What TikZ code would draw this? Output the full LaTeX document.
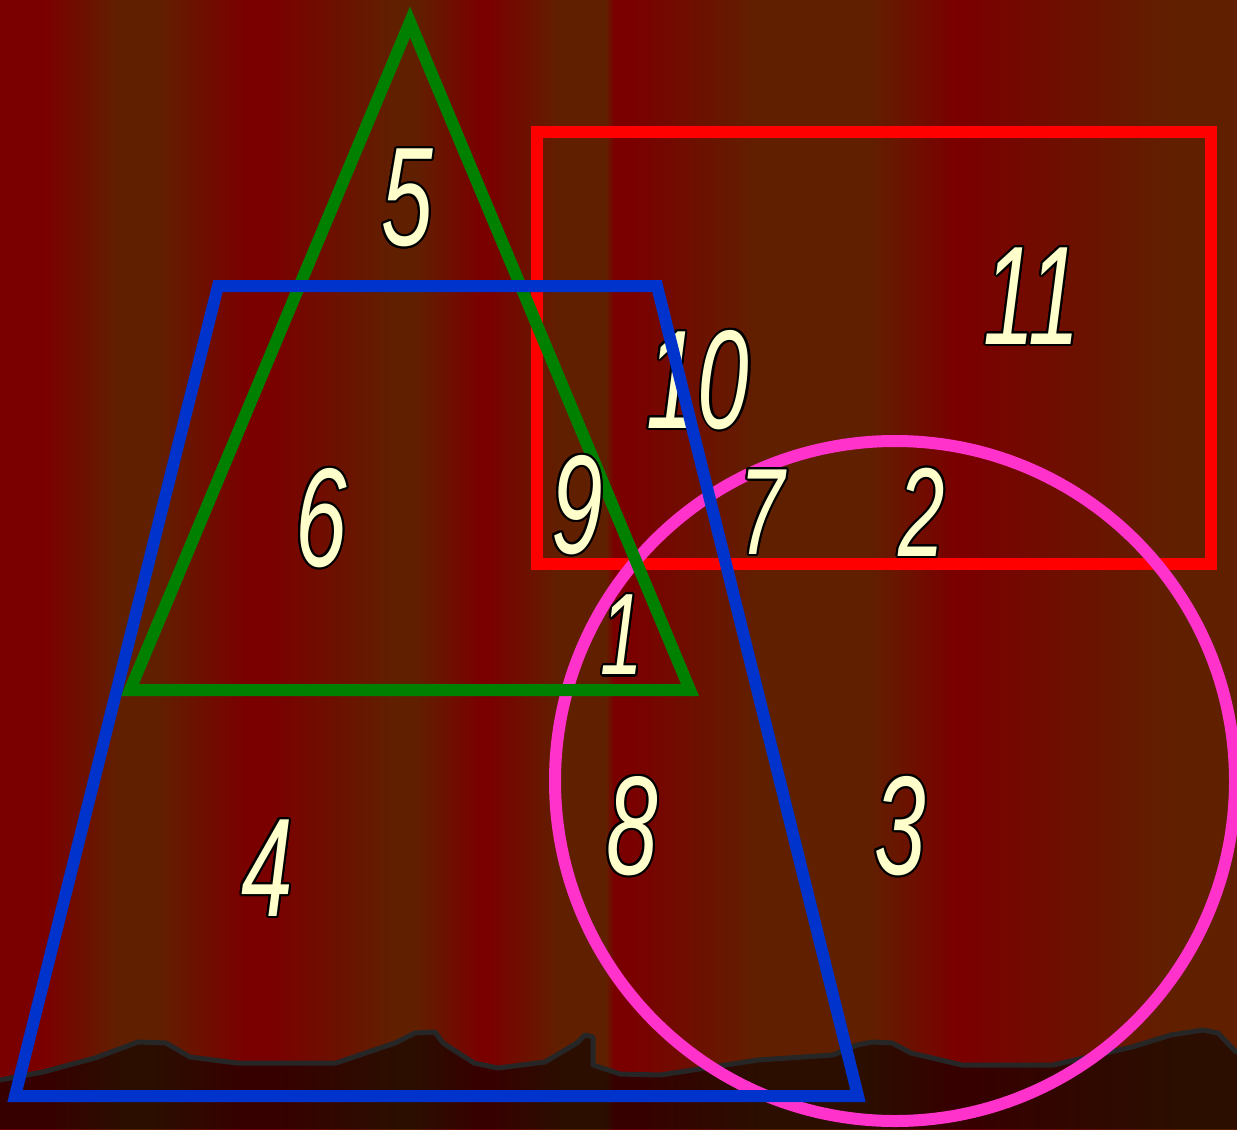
\documentclass[tikz,border=0pt]{standalone}
\usepackage{fontspec}
\usepackage{tikz}
\usetikzlibrary{positioning}
\newfontfamily\numfont[FakeStretch=0.66]{Liberation Sans}
\definecolor{bgred}{RGB}{122,0,0}
\definecolor{bgbrown}{RGB}{96,32,0}
\definecolor{numyellow}{RGB}{255,255,204}
\definecolor{setred}{RGB}{255,0,0}
\definecolor{setgreen}{RGB}{0,128,0}
\definecolor{setblue}{RGB}{0,51,204}
\definecolor{setpink}{RGB}{255,51,204}
\definecolor{ridge}{RGB}{38,38,38}
% outlined region number: [size] name position text
\newcommand{\numlabel}[4][80]{%
  \foreach \a in {0,22.5,...,337.5}
    \node[num={#1}, text=black, shift={(\a:1.2pt)}] at (#3) {#4};
  \node[num={#1}] (#2) at (#3) {#4};
}

\begin{document}
\begin{tikzpicture}[
  x=0.02cm, y=-0.02cm,
  num/.style={inner sep=0pt, text=numyellow,
              font=\numfont\itshape\fontsize{#1}{#1}\selectfont},
  setline/.style={line width=0.24cm, line join=miter}]
\useasboundingbox (0,0) rectangle (1237,1129);
\clip (0,0) rectangle (1237,1129);
% background stripes
\fill[bgred] (0,0) rectangle (1237,1129);
\foreach \xa/\xb/\ca/\cb in {0/45/bgred/bgred, 45/120/bgred/bgbrown,
    120/155/bgbrown/bgbrown, 155/245/bgbrown/bgred, 245/270/bgred/bgred,
    270/395/bgred/bgbrown, 395/415/bgbrown/bgbrown, 415/480/bgbrown/bgred,
    480/490/bgred/bgred, 490/560/bgred/bgbrown, 560/606/bgbrown/bgbrown,
    606/614/bgbrown/bgred, 614/632/bgred/bgred, 632/760/bgred/bgbrown,
    760/868/bgbrown/bgbrown, 868/955/bgbrown/bgred, 955/965/bgred/bgred,
    965/1175/bgred/bgbrown, 1175/1237/bgbrown/bgbrown}
  \fill[left color=\ca, right color=\cb] (\xa-0.5,0) rectangle (\xb+0.5,1129);
% hills at the bottom
\fill[black, opacity=0.55] (0,1080) -- (43,1072) -- (95,1058) -- (138,1042)
  -- (166,1043) -- (190,1057) -- (237,1063) -- (336,1063) -- (395,1043)
  -- (415,1033) -- (435,1032) -- (443,1043) -- (474,1063) -- (498,1068)
  -- (545,1062) -- (577,1043) -- (585,1035) -- (593,1037) -- (593,1065)
  -- (620,1074) -- (660,1075) -- (758,1060) -- (833,1055) -- (857,1045)
  -- (872,1042) -- (892,1043) -- (911,1053) -- (962,1065) -- (1053,1065)
  -- (1132,1047) -- (1171,1035) -- (1203,1030) -- (1218,1033) -- (1237,1053)
  -- (1237,1129) -- (0,1129) -- cycle;
\draw[ridge, line width=0.1cm, line join=round] (0,1080) -- (43,1072)
  -- (95,1058) -- (138,1042) -- (166,1043) -- (190,1057) -- (237,1063)
  -- (336,1063) -- (395,1043) -- (415,1033) -- (435,1032) -- (443,1043)
  -- (474,1063) -- (498,1068) -- (545,1062) -- (577,1043) -- (585,1035)
  -- (593,1037) -- (593,1065) -- (620,1074) -- (660,1075) -- (758,1060)
  -- (833,1055) -- (857,1045) -- (872,1042) -- (892,1043) -- (911,1053)
  -- (962,1065) -- (1053,1065) -- (1132,1047) -- (1171,1035) -- (1203,1030)
  -- (1218,1033) -- (1237,1053);
% the four sets
\draw[setline, setred] (537,132) rectangle (1211,564);
\draw[setline, setpink] (895,781) circle[radius=340];
\draw[setline, setgreen] (410,22) -- (690,690) -- (130,690) -- cycle;
% region numbers
\numlabel{r5}{407,198}{5}
\numlabel{r11}{1032,296}{11}
\numlabel{r10}{698,380}{10}
\numlabel{r6}{321,518}{6}
\numlabel{r9}{577,505}{9}
\numlabel[70]{r7}{762,512}{7}
\numlabel[72]{r2}{922,512}{2}
\numlabel[66]{r1}{622,635}{1}
\numlabel{r8}{632,826}{8}
\numlabel{r3}{900,826}{3}
\numlabel{r4}{267,868}{4}
\draw[setline, setblue] (218,286) -- (657,286) -- (858,1096) -- (15,1096) -- cycle;
\end{tikzpicture}
\end{document}
